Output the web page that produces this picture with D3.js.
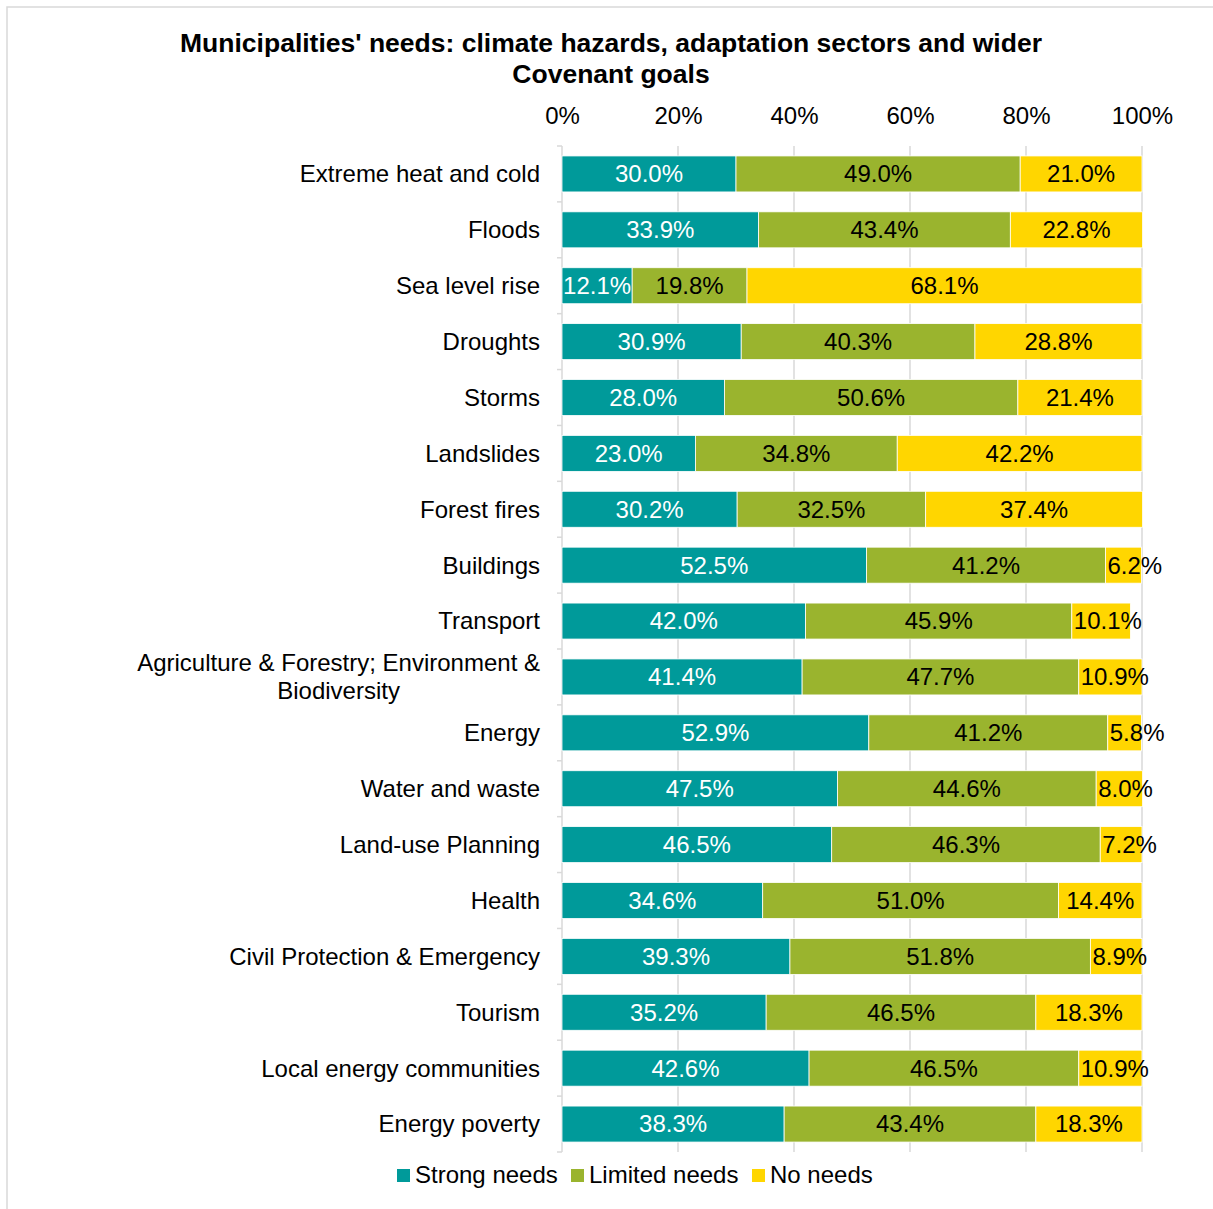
<!DOCTYPE html>
<html><head><meta charset="utf-8">
<script src="https://cdn.jsdelivr.net/npm/d3@7"></script>
<style>body{margin:0;background:#fff;font-family:"Liberation Sans",Arial,sans-serif;}</style>
</head><body>
<svg id="c" width="1213" height="1209"></svg>
<script>
const categories = ["Extreme heat and cold","Floods","Sea level rise","Droughts","Storms","Landslides","Forest fires","Buildings","Transport","Agriculture & Forestry; Environment & Biodiversity","Energy","Water and waste","Land-use Planning","Health","Civil Protection & Emergency","Tourism","Local energy communities","Energy poverty"];
const strongNeeds = [30.0,33.9,12.1,30.9,28.0,23.0,30.2,52.5,42.0,41.4,52.9,47.5,46.5,34.6,39.3,35.2,42.6,38.3];
const limitedNeeds = [49.0,43.4,19.8,40.3,50.6,34.8,32.5,41.2,45.9,47.7,41.2,44.6,46.3,51.0,51.8,46.5,46.5,43.4];
const noNeeds = [21.0,22.8,68.1,28.8,21.4,42.2,37.4,6.2,10.1,10.9,5.8,8.0,7.2,14.4,8.9,18.3,10.9,18.3];
const seriesNames = ["Strong needs","Limited needs","No needs"];
const xTicks = [0,20,40,60,80,100];
const titleLines = ["Municipalities' needs: climate hazards, adaptation sectors and wider","Covenant goals"];

(function(){
const colors = ["#009a9a","#9ab42e","#ffd600"];
const labelColors = ["#ffffff","#000000","#000000"];
const font = "'Liberation Sans', Arial, sans-serif";
const FS = 24;
const svg = d3.select("#c");

// frame
svg.append("rect").attr("x",7).attr("y",7).attr("width",1230).attr("height",1230)
  .attr("fill","none").attr("stroke","#d9d9d9").attr("stroke-width",1.5);

// title
svg.append("g").selectAll("text").data(titleLines).join("text")
  .attr("x",611).attr("y",(d,i)=>52+i*31).attr("text-anchor","middle")
  .attr("font-family",font).attr("font-weight","bold").attr("font-size",26.5).attr("fill","#000")
  .text(d=>d);

const pL=562, pR=1142, pT=146, pB=1152;
const x = d3.scaleLinear().domain([0,100]).range([pL,pR]);
const y = d3.scaleBand().domain(categories).range([pT,pB]).paddingInner(0.356).paddingOuter(0.178);

// gridlines
svg.append("g").selectAll("line").data(xTicks.slice(1)).join("line")
  .attr("x1",d=>x(d)).attr("x2",d=>x(d)).attr("y1",pT).attr("y2",pB)
  .attr("stroke","#d9d9d9").attr("stroke-width",1.5);

// top axis labels
const xAxis = svg.append("g").attr("transform",`translate(0,${pT})`)
  .call(d3.axisTop(x).tickValues(xTicks).tickFormat(d=>d+"%").tickSize(0).tickPadding(22));
xAxis.select(".domain").remove();
xAxis.selectAll("text").attr("font-family",font).attr("font-size",FS).attr("fill","#000");

// y axis with ticks at band boundaries
const step = y.step();
const boundaries = d3.range(categories.length+1).map(i=>pT+i*step);
const yAx = svg.append("g");
yAx.append("line").attr("x1",pL).attr("x2",pL).attr("y1",pT).attr("y2",pB)
  .attr("stroke","#d9d9d9").attr("stroke-width",1.5);
yAx.selectAll("line.t").data(boundaries).join("line").attr("class","t")
  .attr("x1",pL-5).attr("x2",pL).attr("y1",d=>d).attr("y2",d=>d)
  .attr("stroke","#d9d9d9").attr("stroke-width",1.5);

// category labels
const catG = svg.append("g");
categories.forEach(c=>{
  const cy = y(c)+y.bandwidth()/2;
  if (c.startsWith("Agriculture")) {
    const lines=["Agriculture & Forestry; Environment &","Biodiversity"];
    const tmp = catG.append("text").attr("font-family",font).attr("font-size",FS).text(lines[0]);
    const w = tmp.node().getComputedTextLength(); tmp.remove();
    const cx = 540 - w/2;
    const t = catG.append("text").attr("font-family",font).attr("font-size",FS).attr("fill","#000").attr("text-anchor","middle");
    lines.forEach((l,i)=>t.append("tspan").attr("x",cx).attr("y",cy-14+i*28).attr("dy","0.35em").text(l));
  } else {
    catG.append("text").attr("x",540).attr("y",cy).attr("dy","0.35em").attr("text-anchor","end")
      .attr("font-family",font).attr("font-size",FS).attr("fill","#000").text(c);
  }
});

// stacked data
const rows = categories.map((c,i)=>({cat:c,"Strong needs":strongNeeds[i],"Limited needs":limitedNeeds[i],"No needs":noNeeds[i]}));
const stack = d3.stack().keys(seriesNames)(rows);

const barsG = svg.append("g");
stack.forEach((s,si)=>{
  barsG.append("g").selectAll("rect").data(s).join("rect")
    .attr("x",d=>x(d[0])).attr("width",d=>x(d[1])-x(d[0]))
    .attr("y",d=>y(d.data.cat)).attr("height",y.bandwidth())
    .attr("fill",colors[si]).attr("stroke","#ffffff").attr("stroke-width",0.8);
});
stack.forEach((s,si)=>{
  barsG.append("g").selectAll("text").data(s).join("text")
    .attr("y",d=>y(d.data.cat)+y.bandwidth()/2).attr("dy","0.35em")
    .attr("font-family",font).attr("font-size",FS)
    .attr("fill",labelColors[si]).text(d=>d.data[seriesNames[si]].toFixed(1)+"%")
    .each(function(d){
      const w = this.getComputedTextLength();
      const segW = x(d[1])-x(d[0]);
      const sel = d3.select(this);
      if (w > segW) sel.attr("x", x(d[0])+2).attr("text-anchor","start");
      else sel.attr("x",(x(d[0])+x(d[1]))/2).attr("text-anchor","middle");
    });
});

// legend
const legX = [397,571,752];
const lg = svg.append("g");
seriesNames.forEach((n,i)=>{
  lg.append("rect").attr("x",legX[i]).attr("y",1169).attr("width",13).attr("height",13).attr("fill",colors[i]);
  lg.append("text").attr("x",legX[i]+18).attr("y",1175).attr("dy","0.35em")
    .attr("font-family",font).attr("font-size",FS).attr("fill","#000").text(n);
});
})();
</script>
</body></html>
